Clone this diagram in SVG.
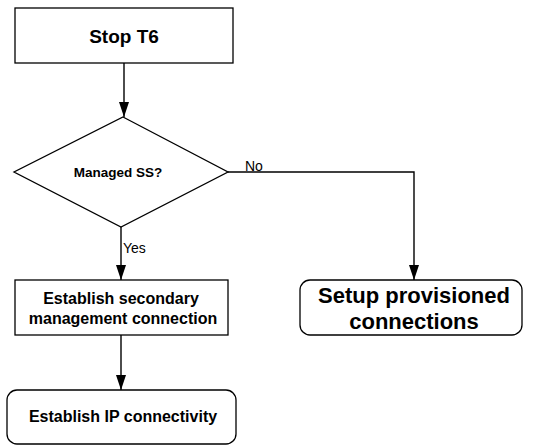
<svg xmlns="http://www.w3.org/2000/svg" width="536" height="445" viewBox="0 0 536 445">
<style>
.box{fill:#fff;stroke:#000;stroke-width:1.3}
.line{fill:none;stroke:#000;stroke-width:1.4}
.t{font-family:"Liberation Sans",Arial,sans-serif;font-weight:bold;fill:#000;text-anchor:middle}
.lbl{font-family:"Liberation Sans",Arial,sans-serif;fill:#000;font-size:14px}
</style>
<defs>
<marker id="ah" viewBox="0 0 15 10" refX="15" refY="5" markerWidth="15" markerHeight="10" markerUnits="userSpaceOnUse" orient="auto">
<path d="M0,0 L15,5 L0,10 Z" fill="#000"/>
</marker>
</defs>
<g id="connectors">
<path class="line" d="M124,63 L124,117" marker-end="url(#ah)"/>
<path class="line" d="M228,172 L414,172 L414,280" marker-end="url(#ah)"/>
<path class="line" d="M121,227 L121,280" marker-end="url(#ah)"/>
<path class="line" d="M121,335 L121,390" marker-end="url(#ah)"/>
<text class="lbl" x="245" y="171">No</text>
<text class="lbl" x="123" y="253">Yes</text>
</g>
<g id="stop">
<rect class="box" x="15" y="8" width="218" height="55"/>
<text class="t" x="124" y="43" font-size="19">Stop T6</text>
</g>
<g id="managed">
<polygon class="box" points="123,117 228,172 121,227 14,172"/>
<text class="t" x="118" y="177" font-size="13.5">Managed SS?</text>
</g>
<g id="secondary">
<rect class="box" x="15" y="280" width="213" height="55"/>
<text class="t" x="121" y="304" font-size="16">Establish secondary</text>
<text class="t" x="123" y="324" font-size="16">management connection</text>
</g>
<g id="setup">
<rect class="box" x="300" y="280" width="222" height="55" rx="10" ry="10"/>
<text class="t" x="414" y="303" font-size="22">Setup provisioned</text>
<text class="t" x="414" y="329" font-size="22">connections</text>
</g>
<g id="ip">
<rect class="box" x="7" y="390" width="229" height="54" rx="10" ry="10"/>
<text class="t" x="123" y="422" font-size="16">Establish IP connectivity</text>
</g>
</svg>
